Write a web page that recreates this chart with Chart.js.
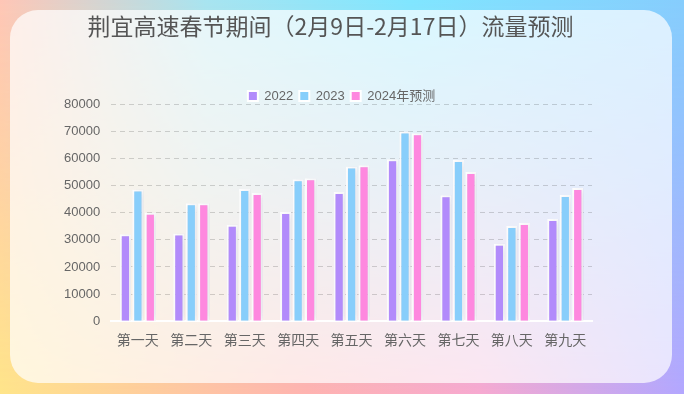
<!DOCTYPE html>
<html>
<head>
<meta charset="utf-8">
<script src="https://cdn.jsdelivr.net/npm/chart.js@4"></script>
<style>
  html, body { margin: 0; padding: 0; }
  body {
    width: 684px; height: 394px; position: relative; overflow: hidden;
    background: linear-gradient(to right, #ffe58a 0%, #ffb3b0 45%, #f7a9d0 70%, #b3a7ff 100%);
  }
  .top-layer {
    position: absolute; left: 0; top: 0; width: 684px; height: 394px;
    background: linear-gradient(to right, #ffc6b6 0%, #a8e4f0 30%, #80e6ff 60%, #86cdfd 100%);
    -webkit-mask-image: linear-gradient(to bottom, #000 0%, rgba(0,0,0,0.6) 45%, transparent 100%);
    mask-image: linear-gradient(to bottom, #000 0%, rgba(0,0,0,0.6) 45%, transparent 100%);
  }
  .card {
    position: absolute; left: 10px; top: 10px; width: 662px; height: 373px;
    border-radius: 28px; background: rgba(255,255,255,0.7);
  }
  #chart { position: absolute; left: 0; top: 0; }
</style>
</head>
<body>
<div class="top-layer"></div>
<div class="card"></div>
<canvas id="chart" width="684" height="394"></canvas>
<script>
  // 数据
  const days = ['第一天', '第二天', '第三天', '第四天', '第五天', '第六天', '第七天', '第八天', '第九天'];
  const flow2022 = [32000, 32300, 35500, 40200, 47600, 59700, 46400, 28500, 37700];
  const flow2023 = [48500, 43500, 48700, 52300, 57000, 69900, 59400, 35100, 46500];
  const flow2024 = [40000, 43500, 47200, 52700, 57500, 69300, 55000, 36200, 49100];
  const yTicks = [0, 10000, 20000, 30000, 40000, 50000, 60000, 70000, 80000];

  const latin = "'Liberation Sans', 'Noto Sans CJK SC', sans-serif";
  const cjk = "'Noto Sans CJK SC', sans-serif";

  // 柱子阴影
  const barShadow = {
    id: 'barShadow',
    beforeDatasetsDraw(chart) {
      const c = chart.ctx;
      c.save();
      c.shadowColor = 'rgba(90, 90, 130, 0.22)';
      c.shadowBlur = 10;
      c.shadowOffsetX = 4;
      c.shadowOffsetY = 0;
    },
    afterDatasetsDraw(chart) {
      chart.ctx.restore();
    }
  };

  // 标题、图例位置微调
  const headerShift = {
    id: 'headerShift',
    afterUpdate(chart) {
      chart.titleBlock.left += 8;
      chart.titleBlock.right += 8;
      chart.legend.left += 19;
      chart.legend.right += 19;
    }
  };

  const ctx = document.getElementById('chart').getContext('2d');
  new Chart(ctx, {
    type: 'bar',
    data: {
      labels: days,
      datasets: [
        { label: '2022', data: flow2022, backgroundColor: '#b28bfb' },
        { label: '2023', data: flow2023, backgroundColor: '#88cefb' },
        { label: '2024年预测', data: flow2024, backgroundColor: '#fe88df' }
      ].map(d => Object.assign(d, {
        borderColor: '#ffffff',
        borderWidth: 2,
        categoryPercentage: 0.7,
        barPercentage: 0.9
      }))
    },
    options: {
      responsive: false,
      animation: false,
      layout: { padding: { left: 53, right: 92, top: 0, bottom: 36 } },
      plugins: {
        title: {
          display: true,
          text: '荆宜高速春节期间（2月9日-2月17日）流量预测',
          color: '#555',
          font: { family: cjk, size: 23, weight: 'normal' },
          padding: { top: 12, bottom: 44 }
        },
        legend: {
          maxHeight: 20.5,
          labels: {
            color: '#666',
            font: { family: latin, size: 13 },
            boxWidth: 10,
            boxHeight: 10,
            padding: 6
          }
        },
        tooltip: { enabled: false }
      },
      scales: {
        x: {
          grid: { display: false, drawTicks: false },
          border: { display: true, color: '#ffffff', width: 2 },
          ticks: { color: '#666', font: { family: cjk, size: 14 }, padding: 10 }
        },
        y: {
          min: 0,
          max: 80000,
          afterBuildTicks: axis => { axis.ticks = yTicks.map(v => ({ value: v })); },
          grid: {
            drawTicks: false,
            color: c => c.tick.value === 0 ? 'rgba(0,0,0,0)' : 'rgba(0,0,0,0.16)'
          },
          border: { display: false, dash: [5, 4] },
          ticks: {
            color: '#666',
            font: { family: latin, size: 13 },
            padding: 11,
            callback: v => String(v)
          }
        }
      }
    },
    plugins: [barShadow, headerShift]
  });
</script>
</body>
</html>
